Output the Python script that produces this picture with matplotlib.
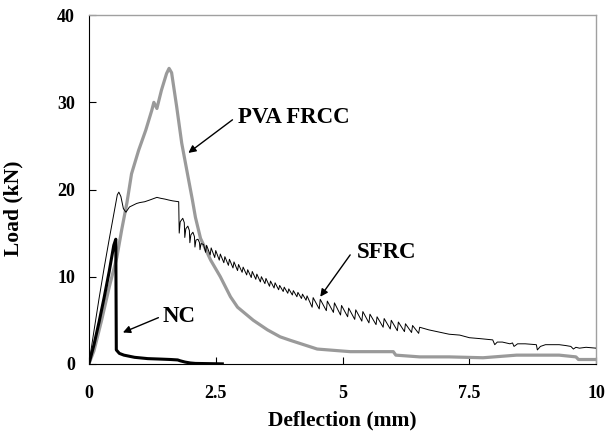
import matplotlib
matplotlib.use("Agg")
import matplotlib.pyplot as plt

plt.rcParams['font.family'] = ['Liberation Serif', 'DejaVu Serif']
plt.rcParams['font.weight'] = 'bold'

# ---- data ----
pva_x = [0.0, 0.10, 0.25, 0.40, 0.55, 0.65, 0.75, 0.84, 0.98, 1.12, 1.24, 1.28, 1.34,
         1.43, 1.53, 1.58, 1.63, 1.73, 1.83, 1.93, 2.04, 2.10, 2.20, 2.40, 2.59, 2.79, 2.93,
         3.24, 3.52, 3.77, 3.97, 4.50, 5.15, 6.00, 6.05, 6.52, 7.10, 7.77, 8.43, 9.27,
         9.60, 9.65, 10.0]
pva_y = [0.0, 1.5, 5.0, 8.8, 12.2, 15.5, 18.5, 21.8, 24.5, 26.8, 29.1, 30.0, 29.3,
         31.4, 33.3, 33.9, 33.4, 29.5, 25.3, 22.2, 18.8, 16.8, 14.4, 11.9, 10.0, 7.7, 6.5,
         5.0, 3.9, 3.1, 2.7, 1.7, 1.4, 1.4, 1.0, 0.8, 0.8, 0.7, 1.0, 1.0,
         0.8, 0.5, 0.5]

sfrc_x = [0.0, 0.1, 0.2, 0.3, 0.4, 0.5, 0.56, 0.59, 0.63, 0.68, 0.73, 0.80, 0.94, 1.0,
          1.1, 1.2, 1.34, 1.41, 1.5, 1.57, 1.65, 1.77, 1.78,
          1.80, 1.85, 1.88, 1.89, 1.91, 1.95, 1.98, 1.99, 2.01, 2.05, 2.08, 2.09,
          2.11, 2.15, 2.18, 2.19, 2.21, 2.26,
          2.30, 2.32, 2.39, 2.41, 2.48, 2.50, 2.57, 2.59, 2.66, 2.68, 2.75, 2.77,
          2.84, 2.86, 2.93, 2.95, 3.02, 3.04, 3.11, 3.13, 3.20, 3.22, 3.29, 3.31,
          3.38, 3.40, 3.47, 3.49, 3.56, 3.58, 3.65, 3.67, 3.74, 3.76, 3.83, 3.85,
          3.92, 3.94, 4.01, 4.03, 4.10, 4.12, 4.19, 4.21, 4.28, 4.30,
          4.40, 4.42, 4.54, 4.56, 4.68, 4.70, 4.82, 4.84, 4.96, 4.98, 5.10, 5.12,
          5.24, 5.26, 5.38, 5.40, 5.52, 5.54, 5.66, 5.68, 5.80, 5.82, 5.94, 5.96,
          6.08, 6.10, 6.22, 6.24, 6.36, 6.38, 6.50, 6.52,
          6.70, 6.86, 7.10, 7.31, 7.50, 7.70, 7.96, 8.00, 8.05, 8.15, 8.30, 8.35,
          8.38, 8.45, 8.60, 8.82, 8.84, 8.90, 9.00, 9.27, 9.40, 9.50, 9.55, 9.60,
          9.67, 9.80, 10.0]
sfrc_y = [0.0, 3.8, 7.5, 11.0, 14.3, 17.5, 19.4, 19.7, 19.2, 17.8, 17.4, 18.0, 18.4, 18.5,
          18.6, 18.8, 19.1, 19.0, 18.9, 18.8, 18.7, 18.6, 15.0,
          16.3, 16.7, 16.2, 14.5, 15.5, 15.8, 15.3, 13.9, 14.8, 15.1, 14.6, 13.4,
          14.2, 14.3, 13.9, 13.1, 13.8, 13.7,
          12.8, 13.6, 12.5, 13.3, 12.2, 13.0, 11.9, 12.6, 11.6, 12.3, 11.3, 12.0,
          11.0, 11.7, 10.7, 11.4, 10.5, 11.1, 10.2, 10.8, 9.9, 10.6, 9.7, 10.3,
          9.4, 10.0, 9.2, 9.8, 8.9, 9.5, 8.7, 9.3, 8.5, 9.0, 8.3, 8.8,
          8.1, 8.6, 7.9, 8.4, 7.7, 8.2, 7.5, 8.0, 7.3, 7.8,
          6.5, 7.6, 6.3, 7.4, 6.1, 7.2, 5.9, 7.0, 5.6, 6.7, 5.4, 6.4,
          5.1, 6.2, 4.9, 6.0, 4.7, 5.7, 4.5, 5.4, 4.2, 5.2, 4.0, 5.0,
          3.8, 4.8, 3.7, 4.6, 3.6, 4.4, 3.5, 4.2,
          3.9, 3.7, 3.4, 3.3, 3.0, 2.9, 2.75, 2.2, 2.5, 2.5, 2.3, 2.4,
          2.0, 2.3, 2.3, 2.2, 1.6, 2.0, 2.2, 2.2, 2.1, 2.0, 1.7, 1.9,
          1.8, 1.9, 1.8]

nc_x = [0.0, 0.1, 0.2, 0.3, 0.4, 0.49, 0.53, 0.54, 0.60, 0.69, 0.90, 1.16, 1.40, 1.61,
        1.75, 1.80, 1.90, 2.00, 2.10, 2.63]
nc_y = [0.0, 2.2, 4.8, 7.6, 10.6, 13.6, 14.3, 1.6, 1.2, 1.0, 0.75, 0.6, 0.55, 0.5,
        0.45, 0.35, 0.2, 0.1, 0.05, 0.0]

x_ticks = [0, 2.5, 5, 7.5, 10]
x_ticklabels = ['0', '2.5', '5', '7.5', '10']
y_ticks = [0, 10, 20, 30, 40]

# ---- figure ----
fig = plt.figure(figsize=(6.09, 4.47), dpi=100)
ax = fig.add_axes([0.146, 0.186, 0.833, 0.780])

ax.plot(pva_x, pva_y, color='#9a9a9a', lw=2.3, solid_joinstyle='round', zorder=2)
ax.plot(sfrc_x, sfrc_y, color='black', lw=0.7, zorder=3)
ax.plot(nc_x, nc_y, color='black', lw=2.2, zorder=4)

ax.set_xlim(0, 10)
ax.set_ylim(0, 40)
ax.set_xticks(x_ticks)
ax.set_xticklabels(x_ticklabels)
ax.set_yticks(y_ticks)
ax.tick_params(axis='both', direction='in', length=5, width=0.8, labelsize=13)
ax.tick_params(axis='x', pad=15)
ax.tick_params(axis='y', pad=10)
for lbl in ax.get_xticklabels() + ax.get_yticklabels():
    lbl.set_fontweight('bold')

for s in ['top', 'right']:
    ax.spines[s].set_color('#a0a0a0')
    ax.spines[s].set_linewidth(1.0)
for s in ['left', 'bottom']:
    ax.spines[s].set_color('black')
    ax.spines[s].set_linewidth(0.8)

ax.set_xlabel('Deflection (mm)', fontsize=15.5, fontweight='bold', labelpad=6)
ax.set_ylabel('Load (kN)', fontsize=15.5, fontweight='bold')
ax.yaxis.set_label_coords(-0.128, 0.447)

arrow = dict(arrowstyle='-|>', color='black', lw=1.0, mutation_scale=11,
             shrinkA=0, shrinkB=0)
ax.text(2.93, 28.3, 'PVA FRCC', fontsize=16.5, fontweight='bold', va='center', ha='left')
ax.annotate('', xy=(1.96, 24.2), xytext=(2.83, 28.0), arrowprops=arrow)
ax.text(5.28, 12.8, 'SFRC', fontsize=16.5, fontweight='bold', va='center', ha='left')
ax.annotate('', xy=(4.56, 7.7), xytext=(5.15, 12.5), arrowprops=arrow)
ax.text(1.45, 5.4, 'NC', fontsize=16.5, fontweight='bold', va='center', ha='left')
ax.annotate('', xy=(0.67, 3.6), xytext=(1.37, 5.3), arrowprops=arrow)

fig.savefig('out.png', dpi=100)
